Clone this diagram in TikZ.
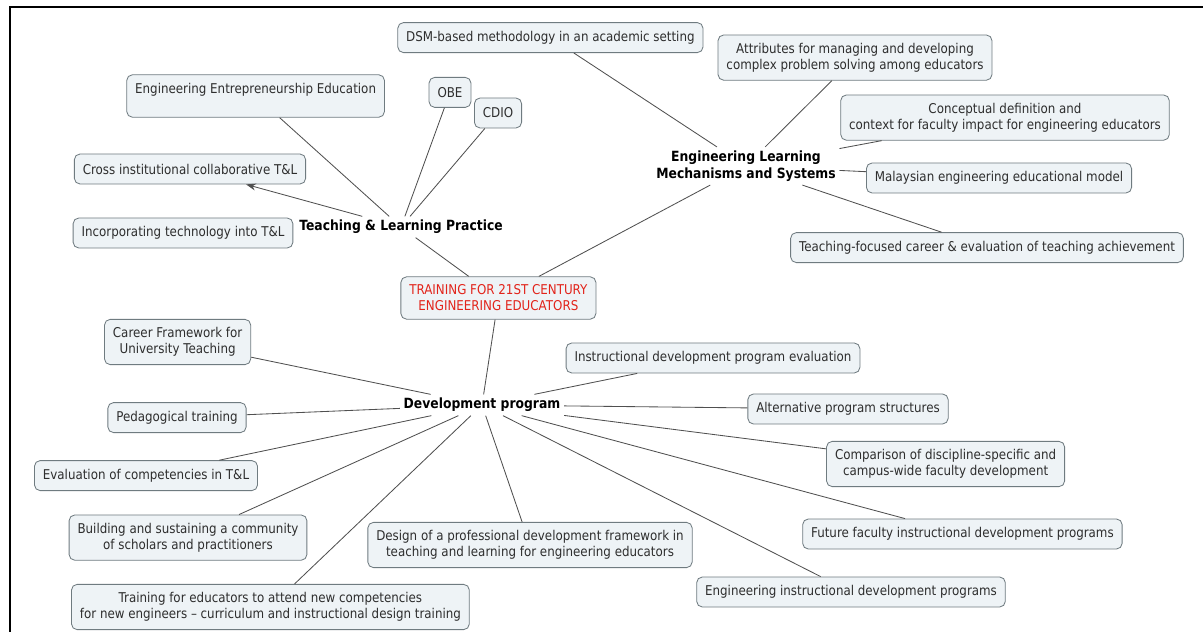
\documentclass[tikz,border=0pt]{standalone}
\usepackage{fontspec}
\setmainfont{DejaVu Sans}[FakeStretch=0.88]
\usetikzlibrary{arrows.meta}
\definecolor{boxfill}{HTML}{EEF3F6}
\definecolor{boxline}{HTML}{6F7B80}
\definecolor{textcol}{HTML}{2E2E2E}
\definecolor{linkcol}{HTML}{505050}
\definecolor{rootcol}{HTML}{E2231A}
\tikzset{
  topic/.style={rectangle, rounded corners=4pt, draw=boxline, fill=boxfill, text=textcol, align=center, inner xsep=6pt, inner ysep=5.8pt, minimum height=0.75cm, line width=0.6pt},
  root/.style={topic, text=rootcol},
  hub/.style={font=\bfseries, text=black, align=center, inner sep=2.5pt},
  link/.style={draw=linkcol, line width=0.6pt},
}
\begin{document}
\begin{tikzpicture}[>={Stealth[length=7pt, width=5pt]}, font=\fontsize{9.6}{11.3}\selectfont]
  \useasboundingbox (0,0) rectangle (30.075,-15.8);
  % ── frame ────────────────────────────────────────────────────────
  \draw[line width=1.4pt] (30.075,-0.175) -- (0.25,-0.175) -- (0.25,-15.8);
  % ── centre node ──────────────────────────────────────────────────
  \node[root] (root) at (12.46,-7.45) {TRAINING FOR 21ST CENTURY\\ENGINEERING EDUCATORS};
  % ── branch labels ────────────────────────────────────────────────
  \node[hub] (tlp)  at (10.025,-5.675) {Teaching \& Learning Practice};
  \node[hub] (elms) at (18.65,-4.15) {Engineering Learning\\Mechanisms and Systems};
  \node[hub] (dev)  at (12.05,-10.125) {Development program};
  % ── teaching & learning practice ─────────────────────────────────
  \node[topic] (ent)    at (6.39,-2.40)  {Engineering Entrepreneurship Education\\~};
  \node[topic] (cross)  at (4.75,-4.225) {Cross institutional collaborative T\&L};
  \node[topic] (incorp) at (4.575,-5.825) {Incorporating technology into T\&L};
  \node[topic] (obe)    at (11.25,-2.31) {OBE};
  \node[topic] (cdio)   at (12.45,-2.825) {CDIO};
  % ── engineering learning mechanisms ──────────────────────────────
  \node[topic] (dsm)     at (13.76,-0.94) {DSM-based methodology in an academic setting};
  \node[topic] (attr)    at (21.375,-1.44) {Attributes for managing and developing\\complex problem solving among educators};
  \node[topic] (concept) at (25.125,-2.94) {Conceptual definition and\\context for faculty impact for engineering educators};
  \node[topic] (malay)   at (24.975,-4.45) {Malaysian engineering educational model};
  \node[topic] (career2) at (24.675,-6.19) {Teaching-focused career \& evaluation of teaching achievement};
  % ── development program ──────────────────────────────────────────
  \node[topic] (career)  at (4.44,-8.55)   {Career Framework for\\University Teaching};
  \node[topic] (ped)     at (4.425,-10.44) {Pedagogical training};
  \node[topic] (evalc)   at (3.65,-11.89)  {Evaluation of competencies in T\&L};
  \node[topic] (build)   at (4.70,-13.44)  {Building and sustaining a community\\of scholars and practitioners};
  \node[topic] (train)   at (6.76,-15.175) {Training for educators to attend new competencies\\for new engineers – curriculum and instructional design training};
  \node[topic] (design)  at (13.25,-13.625) {Design of a professional development framework in\\teaching and learning for engineering educators};
  \node[topic] (ideval)  at (17.825,-8.95) {Instructional development program evaluation};
  \node[topic] (alt)     at (21.2,-10.225) {Alternative program structures};
  \node[topic] (comp)    at (23.64,-11.6)  {Comparison of discipline-specific and\\campus-wide faculty development};
  \node[topic] (future)  at (24.06,-13.35) {Future faculty instructional development programs};
  \node[topic] (enginst) at (21.275,-14.8) {Engineering instructional development programs};
  % ── connectors ───────────────────────────────────────────────────
  \draw[link] (root) -- (tlp);
  \draw[link] (root) -- (elms);
  \draw[link] (root) -- (dev);
  \draw[link] (tlp) -- (ent);
  \draw[link, ->] (tlp) -- (cross);
  \draw[link] (tlp) -- (obe);
  \draw[link] (tlp) -- (cdio);
  \foreach \t in {dsm, attr, concept, malay, career2}
    \draw[link] (elms) -- (\t);
  \foreach \t in {career, ped, evalc, build, train, design, ideval, alt, comp, future, enginst}
    \draw[link] (dev) -- (\t);
\end{tikzpicture}
\end{document}
